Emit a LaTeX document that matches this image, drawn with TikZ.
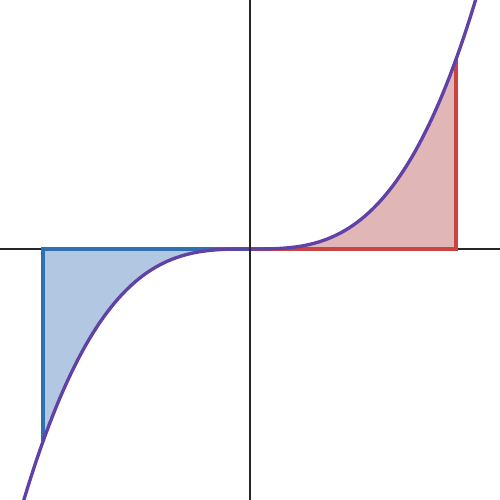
\documentclass[tikz,border=0pt]{standalone}
\begin{document}
\begin{tikzpicture}[x=1cm,y=1cm,
  axisline/.style={draw=black!85,line width=0.55pt},
  redregion/.style={fill={rgb,255:red,224;green,182;blue,182}},
  rededge/.style={draw={rgb,255:red,199;green,68;blue,64},line width=0.95pt},
  blueregion/.style={fill={rgb,255:red,178;green,199;blue,225}},
  blueedge/.style={draw={rgb,255:red,45;green,112;blue,179},line width=0.95pt},
  curveline/.style={draw={rgb,255:red,96;green,66;blue,166},line width=0.95pt}]
\useasboundingbox (-2.5,-2.51) rectangle (2.5,2.49);
\draw[axisline] (-2.5,0) -- (2.5,0);
% shaded regions
\fill[redregion] (0,0) -- plot[domain=0:2.06,samples=80,smooth] (\x,{0.217*\x*\x*\x}) -- (2.06,0) -- cycle;
\fill[blueregion] (0,0) -- plot[domain=0:-2.07,samples=80,smooth] (\x,{0.217*\x*\x*\x}) -- (-2.07,0) -- cycle;
\draw[rededge] (0,0) -- (2.06,0) -- (2.06,{0.217*2.06^3});
\draw[blueedge] (0,0) -- (-2.07,0) -- (-2.07,{-0.217*2.07^3});
\draw[curveline] plot[domain=-2.27:2.26,samples=200,smooth] (\x,{0.217*\x*\x*\x});
\draw[axisline] (0,-2.51) -- (0,2.49);
\end{tikzpicture}
\end{document}
